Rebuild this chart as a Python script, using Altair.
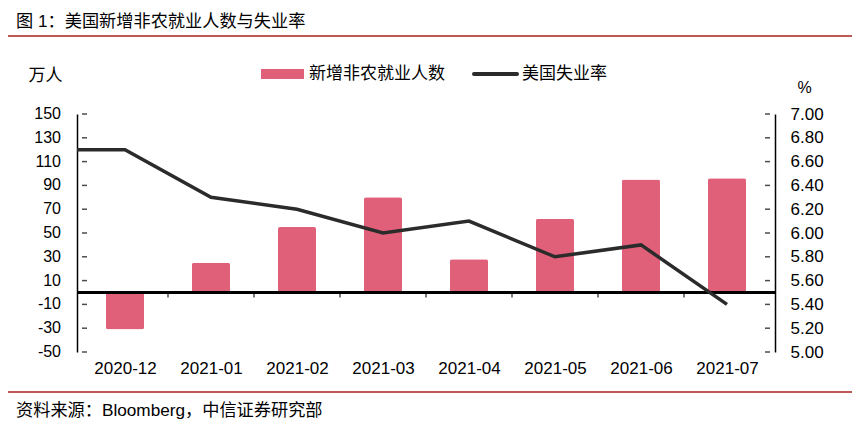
import altair as alt
import pandas as pd

# ---------------- data ----------------
months = ["2020-12", "2021-01", "2021-02", "2021-03", "2021-04", "2021-05", "2021-06", "2021-07"]
payrolls = [-31, 25, 55, 80, 28, 62, 95, 96]           # 万人
rate_months = ["2020-11"] + months
rates = [6.7, 6.7, 6.3, 6.2, 6.0, 6.1, 5.8, 5.9, 5.4]  # %
left_ticks = [-50, -30, -10, 10, 30, 50, 70, 90, 110, 130, 150]
left_tick_labels = ["-50", "-30", "-10", "10", "30", "50", "70", "90", "110", "130", "150"]
right_ticks = [5.0, 5.2, 5.4, 5.6, 5.8, 6.0, 6.2, 6.4, 6.6, 6.8, 7.0]
boundaries = [0.5, 1.5, 2.5, 3.5, 4.5, 5.5, 6.5]
legend_labels = ["新增非农就业人数", "美国失业率"]
title_text = "图 1：美国新增非农就业人数与失业率"
source_text = "资料来源：Bloomberg，中信证券研究部"
left_title = "万人"
right_title = "%"

FONT = "Liberation Sans, Arial, Noto Sans CJK SC"
BAR_COLOR = "#E0607A"
LINE_COLOR = "#2B2B2B"
RED = "#A8201A"

bar_df = pd.DataFrame({"idx": list(range(len(months))), "month": months, "value": payrolls})
line_df = pd.DataFrame({"idx": list(range(-1, len(months))), "month": rate_months, "rate": rates})
lt_df = pd.DataFrame({"value": left_ticks, "label": left_tick_labels})
rt_df = pd.DataFrame({"rate": right_ticks})
bd_df = pd.DataFrame({"idx": boundaries})

W, H = 698, 238

xscale = alt.Scale(domain=[-0.5, len(months) - 0.5], nice=False, zero=False)
lscale = alt.Scale(domain=[-50, 150], nice=False)
rscale = alt.Scale(domain=[5, 7], nice=False, zero=False)

label_expr = "[" + ",".join("'%s'" % m for m in months) + "][datum.value]"

x_axis = alt.Axis(values=list(range(len(months))), labelExpr=label_expr, title=None,
                  ticks=False, tickSize=0, domain=False, grid=False, labelOverlap=False,
                  labelPadding=8, labelFontSize=17, labelFont=FONT, labelColor="black")
l_axis = alt.Axis(values=left_ticks, labels=False,
                  title=left_title, titleAngle=0, titleX=-49, titleY=-39,
                  titleAlign="left", titleBaseline="middle", titleFontWeight="normal",
                  titleFontSize=17, titleFont=FONT, titleColor="black",
                  ticks=False, tickSize=0, domainColor="black",
                  domainWidth=1.5, grid=False)
r_axis = alt.Axis(orient="right", values=right_ticks, format=".2f", labelOverlap=False,
                  title=right_title,
                  titleAngle=0, titleX=22, titleY=-27, titleAlign="left",
                  titleBaseline="middle", titleFontWeight="normal", titleFontSize=16,
                  titleFont=FONT, titleColor="black",
                  ticks=False, tickSize=0, labelPadding=15, labelFontSize=17,
                  labelFont=FONT, labelColor="black", domainColor="black",
                  domainWidth=1.5, grid=False)

X = alt.X("idx:Q", scale=xscale, axis=x_axis)
YL = alt.Y("value:Q", scale=lscale, axis=l_axis)
YR = alt.Y("rate:Q", scale=rscale, axis=r_axis)

bars = alt.Chart(bar_df).mark_bar(size=38, color=BAR_COLOR, cornerRadius=2).encode(x=X, y=YL)

zero_rule = alt.Chart(bar_df).mark_rule(color="black", strokeWidth=2).encode(
    y=alt.datum(0, scale=lscale)
)

x_ticks = alt.Chart(bd_df).mark_tick(orient="vertical", size=5, thickness=1.5, color="black").encode(
    x=X,
    y=alt.datum(0, scale=lscale),
    yOffset=alt.value(2.5),
)

l_ticks = alt.Chart(lt_df).mark_tick(orient="horizontal", size=5, thickness=1.5, color="black").encode(
    x=alt.datum(-0.5, scale=xscale),
    xOffset=alt.value(2.5),
    y=YL,
)

l_labels = alt.Chart(lt_df).mark_text(
    align="right", baseline="middle", fontSize=16, font=FONT, color="black"
).encode(
    x=alt.datum(-0.5, scale=xscale),
    xOffset=alt.value(-21),
    y=YL,
    text="label:N",
)

# decorations
title_mark = alt.Chart(pd.DataFrame({"t": [title_text]})).mark_text(
    align="left", baseline="middle", fontSize=17.2, font=FONT, color="black"
).encode(text="t:N", x=alt.value(-61), y=alt.value(-92))

source_mark = alt.Chart(pd.DataFrame({"t": [source_text]})).mark_text(
    align="left", baseline="middle", fontSize=17.2, font=FONT, color="black"
).encode(text="t:N", x=alt.value(-61), y=alt.value(296.5))

top_line = alt.Chart(pd.DataFrame({"a": [0]})).mark_rule(color=RED, strokeWidth=1.5).encode(
    x=alt.value(-69), x2=alt.value(775), y=alt.value(-78)
)
bottom_line = alt.Chart(pd.DataFrame({"a": [0]})).mark_rule(color=RED, strokeWidth=1.5).encode(
    x=alt.value(-69), x2=alt.value(775), y=alt.value(278)
)

leg_rect = alt.Chart(pd.DataFrame({"a": [0]})).mark_rect(color=BAR_COLOR).encode(
    x=alt.value(184), x2=alt.value(227), y=alt.value(-45), y2=alt.value(-35)
)
leg_text1 = alt.Chart(pd.DataFrame({"t": [legend_labels[0]]})).mark_text(
    align="left", baseline="middle", fontSize=17, font=FONT, color="black"
).encode(text="t:N", x=alt.value(232), y=alt.value(-40))
leg_line = alt.Chart(pd.DataFrame({"a": [0]})).mark_rule(color=LINE_COLOR, strokeWidth=4, strokeCap="round").encode(
    x=alt.value(397), x2=alt.value(440), y=alt.value(-40)
)
leg_text2 = alt.Chart(pd.DataFrame({"t": [legend_labels[1]]})).mark_text(
    align="left", baseline="middle", fontSize=17, font=FONT, color="black"
).encode(text="t:N", x=alt.value(445), y=alt.value(-40))

left_group = alt.layer(bars, zero_rule, x_ticks, l_ticks, l_labels, title_mark, source_mark,
                       top_line, bottom_line, leg_rect, leg_text1, leg_line, leg_text2)

line = alt.Chart(line_df).mark_line(color=LINE_COLOR, strokeWidth=3.5, clip=True).encode(x=X, y=YR)

r_ticks = alt.Chart(rt_df).mark_tick(orient="horizontal", size=5, thickness=1.5, color="black").encode(
    x=alt.datum(len(months) - 0.5, scale=xscale),
    xOffset=alt.value(-2.5),
    y=YR,
)

right_group = alt.layer(line, r_ticks)

chart = alt.layer(left_group, right_group).resolve_scale(y="independent").properties(
    width=W, height=H,
    autosize=alt.AutoSizeParams(type="none"),
    padding={"left": 69, "top": 106, "right": 83, "bottom": 76},
    background="white",
).configure_view(stroke=None)

chart.save("out.html", embed_options={"renderer": "svg", "actions": False})
